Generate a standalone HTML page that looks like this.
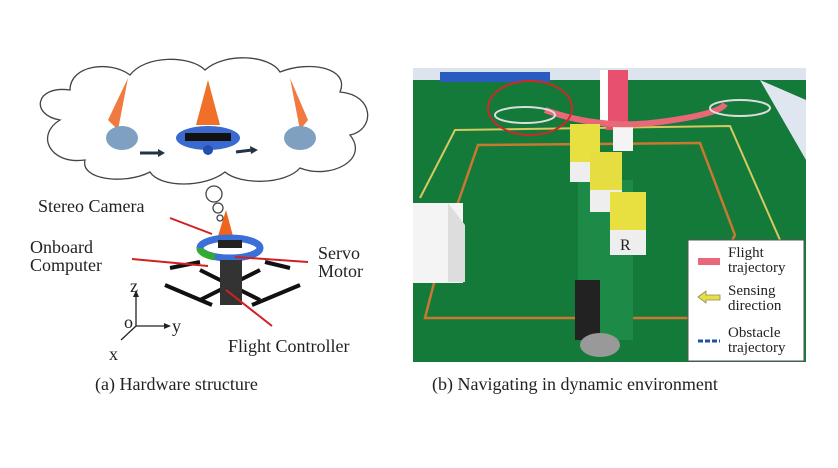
<!DOCTYPE html><html><head><style>body{margin:0;background:#fff}svg{display:block}text{font-family:"Liberation Serif",serif;fill:#222}</style></head><body>
<svg width="838" height="468" viewBox="0 0 838 468">
<g fill="#fff" stroke="#444" stroke-width="1.3">
<path d="M60,120 C30,115 35,85 70,90 C70,65 110,60 130,75 C145,55 190,55 205,70 C225,52 270,55 280,72 C310,60 350,68 340,92 C375,95 375,130 350,135 C370,160 330,180 300,168 C285,185 240,185 225,172 C205,188 160,188 150,172 C125,185 80,180 85,160 C50,165 35,135 60,120 Z"/>
<circle cx="214" cy="194" r="8"/><circle cx="218" cy="208" r="5"/><circle cx="220" cy="218" r="3"/>
</g>
<g>
<path d="M108,120 L128,78 L118,130 Z" fill="#f07a40"/><ellipse cx="122" cy="138" rx="16" ry="12" fill="#7fa0c0"/>
<path d="M196,125 L208,80 L220,125 Z" fill="#f0702a"/><ellipse cx="208" cy="138" rx="32" ry="12" fill="#3a6ad0"/><rect x="185" y="133" width="46" height="8" fill="#111"/><circle cx="208" cy="150" r="5" fill="#2050b0"/>
<path d="M290,78 L308,120 L300,130 Z" fill="#f07a40"/><ellipse cx="300" cy="138" rx="16" ry="12" fill="#7fa0c0"/>
<path d="M140,153 L160,153" stroke="#234" stroke-width="3"/><path d="M158,149 L165,153 L158,157Z" fill="#234"/>
<path d="M236,152 L252,150" stroke="#234" stroke-width="3"/><path d="M250,146 L258,150 L251,154Z" fill="#234"/>
</g>
<g>
<path d="M218,236 L226,210 L233,236 Z" fill="#f0641e"/>
<ellipse cx="230" cy="248" rx="30" ry="10" fill="none" stroke="#3a70d8" stroke-width="7"/>
<path d="M200,248 a30,10 0 0 0 15,9" stroke="#3a3" stroke-width="7" fill="none"/>
<rect x="218" y="240" width="24" height="8" fill="#222"/>
<g stroke="#111" stroke-width="4"><line x1="170" y1="268" x2="200" y2="262"/><line x1="265" y1="262" x2="290" y2="268"/><line x1="165" y1="285" x2="212" y2="305"/><line x1="252" y1="305" x2="300" y2="285"/><line x1="200" y1="270" x2="260" y2="300"/><line x1="260" y1="270" x2="200" y2="300"/></g>
<rect x="220" y="260" width="22" height="45" fill="#333"/>
</g>
<g stroke="#d02020" stroke-width="2"><line x1="170" y1="218" x2="212" y2="234"/><line x1="132" y1="259" x2="208" y2="266"/><line x1="308" y1="262" x2="235" y2="257"/><line x1="272" y1="326" x2="226" y2="290"/></g>
<g stroke="#222" stroke-width="1.3"><line x1="136" y1="326" x2="136" y2="295"/><line x1="136" y1="326" x2="166" y2="326"/><line x1="136" y1="326" x2="121" y2="340"/></g>
<path d="M133,297 L136,290 L139,297Z M164,323 L171,326 L164,329Z" fill="#222"/>
<g font-size="18"><text x="130" y="292">z</text><text x="124" y="328">o</text><text x="172" y="332">y</text><text x="109" y="360">x</text>
<text x="38" y="212">Stereo Camera</text><text x="30" y="253">Onboard</text><text x="30" y="271">Computer</text><text x="318" y="259">Servo</text><text x="318" y="277">Motor</text><text x="228" y="352">Flight Controller</text>
<text x="95" y="390">(a) Hardware structure</text><text x="432" y="390">(b) Navigating in dynamic environment</text></g>
<rect x="413" y="68" width="393" height="294" fill="#137a3a"/>
<rect x="413" y="68" width="393" height="12" fill="#dde4ee"/><rect x="440" y="72" width="110" height="10" fill="#2a5cc0"/>
<path d="M760,80 L806,100 L806,160 Z" fill="#dfe6ef"/>
<polyline points="420,198 455,130 730,126 780,240" fill="none" stroke="#d8c860" stroke-width="2"/>
<polygon points="478,145 700,143 735,235 690,318 425,318 445,240" fill="none" stroke="#c87830" stroke-width="2.5"/>
<rect x="413" y="203" width="50" height="80" fill="#f4f4f4"/><polygon points="448,203 465,225 465,282 448,282" fill="#ddd"/>
<rect x="606" y="70" width="22" height="60" fill="#e85070"/><rect x="600" y="70" width="8" height="55" fill="#fff"/><rect x="613" y="126" width="20" height="25" fill="#f4f4f4"/>
<path d="M545,110 Q600,130 660,122 T725,104" stroke="#e86878" stroke-width="6" fill="none"/>
<ellipse cx="530" cy="108" rx="42" ry="27" fill="none" stroke="#d02828" stroke-width="2"/>
<ellipse cx="525" cy="115" rx="30" ry="8" fill="none" stroke="#ddd" stroke-width="2"/><ellipse cx="740" cy="108" rx="30" ry="8" fill="none" stroke="#ddd" stroke-width="2"/>
<rect x="578" y="180" width="55" height="160" fill="#1e8a48"/>
<rect x="575" y="280" width="25" height="60" fill="#222"/><ellipse cx="600" cy="345" rx="20" ry="12" fill="#999"/>
<rect x="570" y="124" width="30" height="38" fill="#e8e040"/><rect x="570" y="162" width="30" height="20" fill="#eee"/>
<rect x="590" y="152" width="32" height="38" fill="#e6de40"/><rect x="590" y="190" width="32" height="22" fill="#eee"/>
<rect x="610" y="192" width="36" height="38" fill="#e8e040"/><rect x="610" y="230" width="36" height="25" fill="#eee"/>
<text x="620" y="250" font-family="Liberation Sans" font-size="16" fill="#234">R</text>
<rect x="688" y="240" width="116" height="121" fill="#fff" stroke="#555"/>
<rect x="698" y="258" width="22" height="7" fill="#e86878"/>
<path d="M698,297 L706,291 L706,295 L720,295 L720,300 L706,300 L706,303Z" fill="#e8e040" stroke="#886" stroke-width="0.8"/>
<path d="M698,341 L720,341" stroke="#2050a0" stroke-width="3" stroke-dasharray="5,2"/>
<g font-size="15"><text x="728" y="257">Flight</text><text x="728" y="272">trajectory</text><text x="728" y="295">Sensing</text><text x="728" y="310">direction</text><text x="728" y="337">Obstacle</text><text x="728" y="352">trajectory</text></g>
</svg></body></html>
